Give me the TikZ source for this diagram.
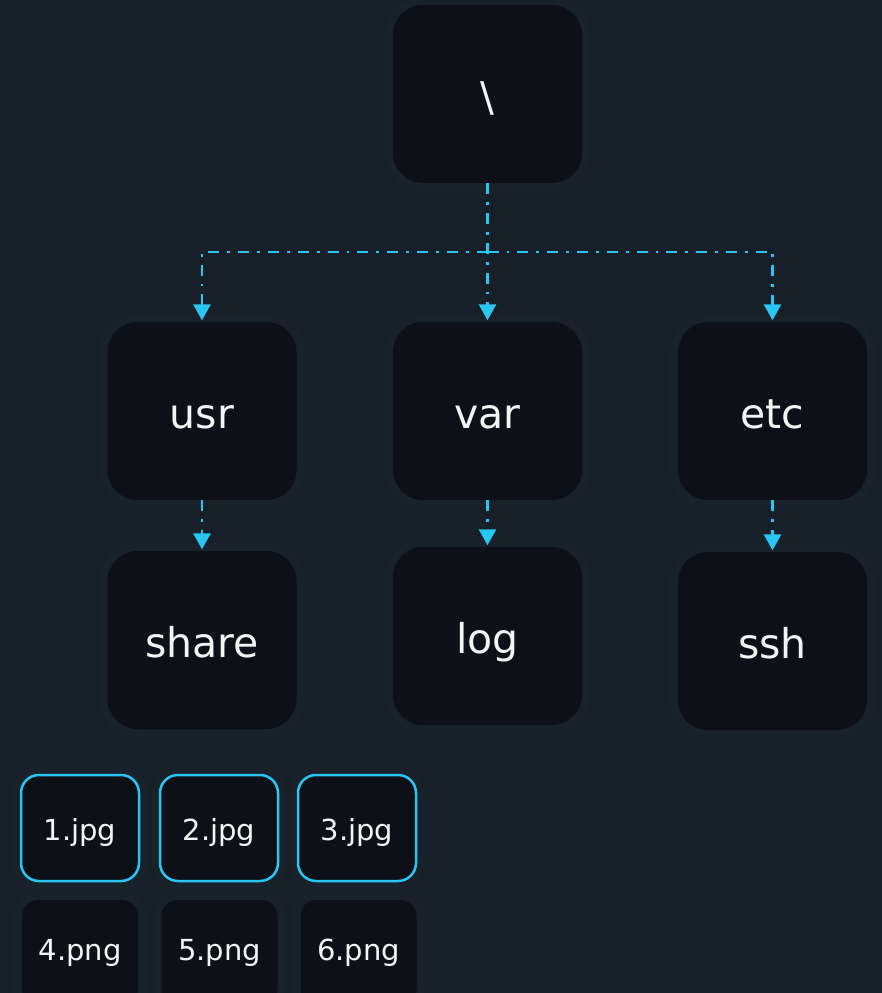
\documentclass[tikz,border=0pt]{standalone}
\usepackage{fontspec}
\setmainfont{DejaVu Sans}
\usetikzlibrary{arrows.meta}
\definecolor{bgc}{HTML}{171F29}
\definecolor{nodefill}{HTML}{0D1117}
\definecolor{haloc}{HTML}{19212B}
\definecolor{cyanc}{HTML}{29C5F3}
\definecolor{txtc}{HTML}{F4F4F4}
\tikzset{
  base/.style={fill=nodefill, inner sep=0pt, text=txtc,
    preaction={draw=haloc, line width=16pt}},
  bigbox/.style={base, rounded corners=30pt, minimum width=189pt, minimum height=178pt,
    font=\fontsize{41}{49}\selectfont, text height=34pt, text depth=0pt},
  jpgbox/.style={base, rounded corners=18pt, minimum width=118pt, minimum height=106pt,
    draw=cyanc, line width=2.5pt,
    font=\fontsize{29}{35}\selectfont, text height=24pt, text depth=0pt},
  pngbox/.style={base, rounded corners=16pt, minimum width=116pt, minimum height=106pt,
    font=\fontsize{29}{35}\selectfont, text height=14pt, text depth=0pt},
  conn/.style={draw=cyanc, line width=2.8pt,
    dash pattern=on 11pt off 8pt on 2.8pt off 8pt,
    -{Triangle[width=17pt,length=16pt]}, shorten >=1.5pt}
}
\begin{document}
\begin{tikzpicture}[x=1pt,y=-1pt]
\fill[bgc] (0,0) rectangle (882,993);
\useasboundingbox (0,0) rectangle (882,993);

\node[bigbox] (root) at (487.5,94) {\textbackslash};
\node[bigbox] (usr) at (202,411) {usr};
\node[bigbox] (var) at (487.5,411) {var};
\node[bigbox] (etc) at (772.5,411) {etc};
\node[bigbox] (share) at (202,640) {share};
\node[bigbox] (log) at (487.5,636) {log};
\node[bigbox] (ssh) at (772.5,641) {ssh};

\node[jpgbox] (j1) at (80,828) {1.jpg};
\node[jpgbox] (j2) at (219,828) {2.jpg};
\node[jpgbox] (j3) at (357,828) {3.jpg};
\node[pngbox] (p4) at (80,953) {4.png};
\node[pngbox] (p5) at (219.5,953) {5.png};
\node[pngbox] (p6) at (358.5,953) {6.png};

\coordinate (jn) at (487.5,252);
\draw[conn] (root.south) -- (var.north);
\draw[conn] (jn) -| (usr.north);
\draw[conn] (jn) -| (etc.north);
\draw[conn] (usr.south) -- (share.north);
\draw[conn] (var.south) -- (log.north);
\draw[conn] (etc.south) -- (ssh.north);
\end{tikzpicture}
\end{document}
